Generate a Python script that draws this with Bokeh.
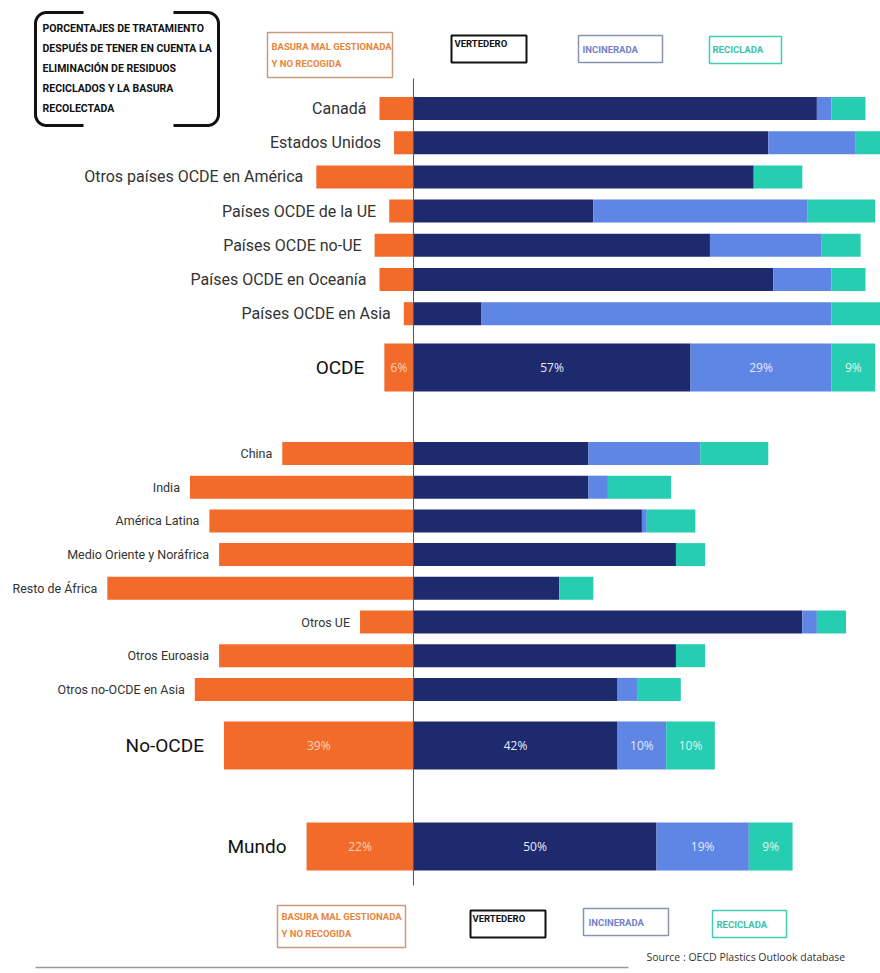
import numpy as np
from bokeh.plotting import figure
from bokeh.models import Range1d
from bokeh.core.properties import value
from bokeh.embed import file_html
from bokeh.resources import INLINE

# ---------------- data (percent of plastic waste) ----------------
top_regions = ["Canadá", "Estados Unidos", "Otros países OCDE en América",
               "Países OCDE de la UE", "Países OCDE no-UE",
               "Países OCDE en Oceanía", "Países OCDE en Asia"]
top_mismanaged = [7, 4, 20, 5, 8, 7, 2]
top_landfill = [83, 73, 70, 37, 61, 74, 14]
top_incinerated = [3, 18, 0, 44, 23, 12, 72]
top_recycled = [7, 5, 10, 14, 8, 7, 12]

bottom_regions = ["China", "India", "América Latina", "Medio Oriente y Noráfrica",
                  "Resto de África", "Otros UE", "Otros Euroasia",
                  "Otros no-OCDE en Asia"]
bottom_mismanaged = [27, 46, 42, 40, 63, 11, 40, 45]
bottom_landfill = [36, 36, 47, 54, 30, 80, 54, 42]
bottom_incinerated = [23, 4, 1, 0, 0, 3, 0, 4]
bottom_recycled = [14, 13, 10, 6, 7, 6, 6, 9]

summary_regions = ["OCDE", "No-OCDE", "Mundo"]
summary_mismanaged = [6, 39, 22]
summary_landfill = [57, 42, 50]
summary_incinerated = [29, 10, 19]
summary_recycled = [9, 10, 9]

legend_labels = ["BASURA MAL GESTIONADA\nY NO RECOGIDA", "VERTEDERO", "INCINERADA", "RECICLADA"]
title_lines = ["PORCENTAJES DE TRATAMIENTO", "DESPUÉS DE TENER EN CUENTA LA",
               "ELIMINACIÓN DE RESIDUOS", "RECICLADOS Y LA BASURA", "RECOLECTADA"]
source_text = "Source : OECD Plastics Outlook database"

# ---------------- style ----------------
ORANGE = "#F26B2A"
NAVY = "#1E2A6E"
BLUE = "#5F86E4"
TEAL = "#27CDB0"
LABEL_FONT = value("Roboto")
COND_FONT = value("Roboto")
PCT_FONT = value("Open Sans")

W, H = 880, 973
PX = 4.86          # pixels per percentage point
ZERO = 413         # pixel position of the 0 line


def fx(px):
    return (px - ZERO) / PX


p = figure(width=W, height=H, x_range=Range1d(fx(0), fx(W)), y_range=Range1d(H, 0),
           output_backend="svg", toolbar_location=None, tools="", min_border=0,
           x_axis_location=None, y_axis_location=None)
p.grid.visible = False
p.outline_line_color = None
p.background_fill_color = "white"
p.border_fill_color = "white"


def draw_group(names, mis, lan, inc, rec, ys, h, font_size, gap, font, color="#2a2a2a", pct=False):
    mis = np.array(mis, float)
    lan = np.array(lan, float)
    inc = np.array(inc, float)
    rec = np.array(rec, float)
    ys = np.array(ys, float)
    p.hbar(y=ys, left=-mis, right=0, height=h, fill_color=ORANGE, line_color=None)
    p.hbar(y=ys, left=0, right=lan, height=h, fill_color=NAVY, line_color=None)
    p.hbar(y=ys, left=lan, right=lan + inc, height=h, fill_color=BLUE, line_color=None)
    p.hbar(y=ys, left=lan + inc, right=lan + inc + rec, height=h, fill_color=TEAL, line_color=None)
    p.text(x=-mis - gap / PX, y=ys, text=names, text_align="right", text_baseline="middle",
           text_font=font, text_font_size=font_size, text_color=color)
    if pct:
        segs = [(-mis / 2, mis, "#FBD3B8"), (lan / 2, lan, "#E6EAF7"),
                (lan + inc / 2, inc, "#E3EAFB"), (lan + inc + rec / 2, rec, "#DDF7F0")]
        for cx, v, c in segs:
            p.text(x=cx, y=ys, text=[f"{int(t)}%" for t in v], text_align="center",
                   text_baseline="middle", text_font=PCT_FONT, text_font_size="12px",
                   text_color=c)


top_y = [108 + 34.2 * k for k in range(len(top_regions))]
bottom_y = [453 + 33.7 * k for k in range(len(bottom_regions))]
summary_y = [367, 745, 846]

draw_group(top_regions, top_mismanaged, top_landfill, top_incinerated, top_recycled,
           top_y, 23, "16px", 13, LABEL_FONT, "#333333")
draw_group(bottom_regions, bottom_mismanaged, bottom_landfill, bottom_incinerated,
           bottom_recycled, bottom_y, 23, "12.5px", 10, LABEL_FONT, "#333333")
draw_group(summary_regions, summary_mismanaged, summary_landfill, summary_incinerated,
           summary_recycled, summary_y, 48, "19px", 20, LABEL_FONT, "#111111", pct=True)

# zero line
p.segment(x0=[0], y0=[78], x1=[0], y1=[885], line_color="#555555", line_width=1)

# ---------------- title bracket box ----------------
t = np.linspace(0, np.pi / 2, 12)


def bracket(x_outer, inner_dx, top, bottom, r, s):
    dx = np.concatenate([[inner_dx], r - r * np.sin(t), r - r * np.cos(t), [inner_dx]])
    dy = np.concatenate([[top], top + r - r * np.cos(t), bottom - r + r * np.sin(t), [bottom]])
    p.line(x=fx(x_outer + s * dx), y=dy, line_color="#111111", line_width=3)


bracket(35, 48, 12, 125, 11, 1)
bracket(218, 45, 12, 125, 11, -1)
p.text(x=[fx(42)] * len(title_lines), y=[28 + 20 * k for k in range(len(title_lines))],
       text=title_lines, text_align="left", text_baseline="middle", text_font=COND_FONT,
       text_font_size="10.5px", text_font_style="bold", text_color="#111111")

# ---------------- legends ----------------
legend_styles = [
    dict(text="#E8843A", border="#C99A80", lw=1.5),
    dict(text="#111111", border="#111111", lw=2),
    dict(text="#7381C9", border="#8C93B0", lw=1.5),
    dict(text="#38C2A9", border="#3FCFB5", lw=1.5),
]
# boxes: (left, right, top, bottom, text x, text y)
legend_top = [(267, 392, 32, 77, 271, 46), (451, 526, 35, 62, 454, 43),
              (578, 662, 35, 62, 582, 49), (709, 781, 36, 63, 712, 49)]
legend_bottom = [(277, 405, 905, 947, 281, 916), (470, 545, 910, 937, 472, 918),
                 (583, 668, 908, 935, 588, 922), (712, 786, 910, 937, 716, 924)]

for boxes in (legend_top, legend_bottom):
    for label, st, (l, r, tp, bt, tx, ty) in zip(legend_labels, legend_styles, boxes):
        p.quad(left=[fx(l)], right=[fx(r)], top=[tp], bottom=[bt], fill_color=None,
               line_color=st["border"], line_width=st["lw"])
        lines = label.split("\n")
        p.text(x=[fx(tx)] * len(lines), y=[ty + 17 * k for k in range(len(lines))],
               text=lines, text_align="left", text_baseline="middle", text_font=COND_FONT,
               text_font_size="9.5px", text_font_style="bold", text_color=st["text"])

# ---------------- source & rule ----------------
p.text(x=[fx(646)], y=[956], text=[source_text], text_align="left", text_baseline="middle",
       text_font=PCT_FONT, text_font_size="10.5px", text_color="#333333")
p.segment(x0=[fx(35)], y0=[967], x1=[fx(628)], y1=[967], line_color="#9a9a9a", line_width=1.5)

open("out.html", "w").write(file_html(p, INLINE))
